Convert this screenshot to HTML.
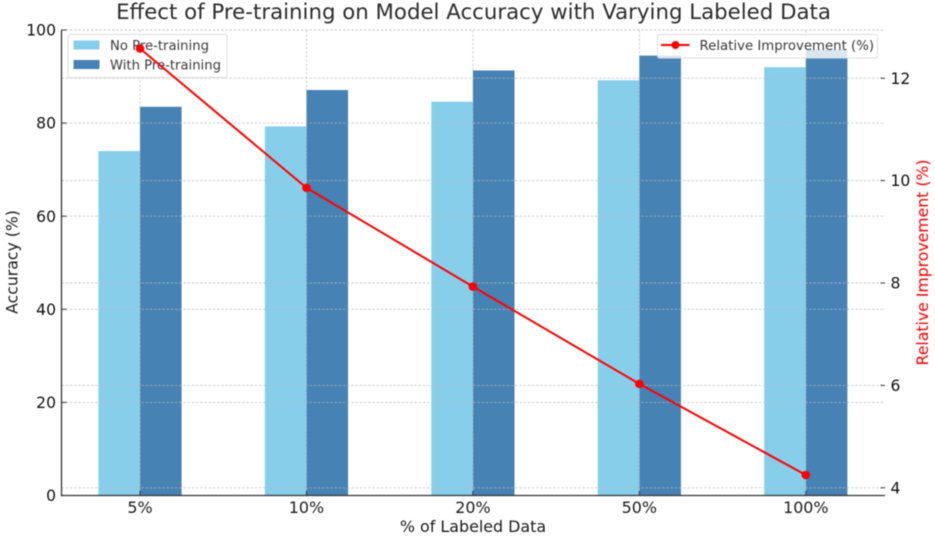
<!DOCTYPE html>
<html>
<head>
<meta charset="utf-8">
<title>Effect of Pre-training on Model Accuracy</title>
<style>
html,body{margin:0;padding:0;background:#fff;}
svg{display:block;filter:blur(0.4px);}
text{font-family:"DejaVu Sans","Liberation Sans",sans-serif;}
</style>
</head>
<body>
<svg id="chart" width="935" height="537" viewBox="0 0 935 537" xmlns="http://www.w3.org/2000/svg"></svg>
<script>
const categories = ['5%', '10%', '20%', '50%', '100%'];
const noPretraining = [74, 79.3, 84.6, 89.2, 92];
const withPretraining = [83.5, 87.1, 91.3, 94.5, 95.8];
const relativeImprovement = [12.58, 9.86, 7.93, 6.03, 4.25];
const leftTicks = [0, 20, 40, 60, 80, 100];
const rightTicks = [4, 6, 8, 10, 12];

const svg = document.getElementById('chart');
const NS = 'http://www.w3.org/2000/svg';
const plotLeft = 61.5, plotRight = 885, plotTop = 30, plotBottom = 495.5;

function xAxis(i) { return 140 + i * 166.45; }
function yLeft(v) { return plotBottom - v * (plotBottom - plotTop) / 100; }
function yRight(v) { return 487.8 - (v - 4) * 51.2; }

function make(tag, attrs, text) {
  const el = document.createElementNS(NS, tag);
  for (const k in attrs) el.setAttribute(k, attrs[k]);
  if (text !== undefined) el.textContent = text;
  svg.appendChild(el);
  return el;
}

/* title and axis titles */
let t = make('text', {x: 473.5, y: 19, 'text-anchor': 'middle', 'font-size': 21.3, fill: '#2c2c2c'}, 'Effect of Pre-training on Model Accuracy with Varying Labeled Data');


t = make('text', {x: 473, y: 532, 'text-anchor': 'middle', 'font-size': 15.9, fill: '#1c1c1c'}, '% of Labeled Data');


t = make('text', {x: 0, y: 0, transform: 'translate(17.5,262) rotate(-90)', 'text-anchor': 'middle', 'font-size': 15.7, fill: '#1c1c1c'}, 'Accuracy (%)');


t = make('text', {x: 0, y: 0, transform: 'translate(928,262.5) rotate(-90)', 'text-anchor': 'middle', 'font-size': 15.7, fill: '#ff0000'}, 'Relative Improvement (%)');



/* bars */
const barW = 41.6;
categories.forEach(function (c, i) {
  const x = xAxis(i);
  let r = make('rect', {x: x - barW, y: yLeft(noPretraining[i]), width: barW, height: plotBottom - yLeft(noPretraining[i]), fill: '#87ceeb'});
  
  
  r = make('rect', {x: x, y: yLeft(withPretraining[i]), width: barW, height: plotBottom - yLeft(withPretraining[i]), fill: '#4682b4'});
  
  
});

/* grid (drawn over the bars) */
const gridStyle = {stroke: '#b8b8b8', 'stroke-width': 0.9, 'stroke-dasharray': '2.6 1.6', 'stroke-opacity': 0.75, fill: 'none'};
function gridLine(x1, y1, x2, y2, name) {
  const l = make('line', Object.assign({x1: x1, y1: y1, x2: x2, y2: y2}, gridStyle));
  
  
}
leftTicks.forEach(function (v) { gridLine(plotLeft, yLeft(v), plotRight, yLeft(v), 'grid-line-left'); });
rightTicks.forEach(function (v) { gridLine(plotLeft, yRight(v), plotRight, yRight(v), 'grid-line-right'); });
categories.forEach(function (c, i) { gridLine(xAxis(i), plotTop, xAxis(i), plotBottom, 'grid-line-vertical'); });

/* left legend (sits beneath the line series) */
let b = make('rect', {x: 68, y: 34.5, width: 159, height: 43, rx: 2, fill: '#fff', 'fill-opacity': 0.8, stroke: '#ddd', 'stroke-width': 1});


b = make('rect', {x: 73.5, y: 40.5, width: 26, height: 9, fill: '#87ceeb'});


b = make('rect', {x: 73.5, y: 60, width: 26, height: 9, fill: '#4682b4'});


b = make('text', {x: 110, y: 49.8, 'font-size': 13.2, fill: '#3a3a3a'}, 'No Pre-training');


b = make('text', {x: 110, y: 69.3, 'font-size': 13.2, fill: '#3a3a3a'}, 'With Pre-training');



/* improvement line */
const pts = relativeImprovement.map(function (v, i) { return xAxis(i) + ',' + yRight(v); }).join(' ');
const poly = make('polyline', {points: pts, fill: 'none', stroke: '#ff0000', 'stroke-width': 2});


relativeImprovement.forEach(function (v, i) {
  const c = make('circle', {cx: xAxis(i), cy: yRight(v), r: 4.3, fill: '#ff0000'});
  
  
});

/* spines */
let s = make('line', {x1: plotLeft, y1: plotTop, x2: plotLeft, y2: plotBottom + 0.7, stroke: '#333', 'stroke-width': 1.3});


s = make('line', {x1: plotLeft, y1: plotBottom, x2: plotRight, y2: plotBottom, stroke: '#333', 'stroke-width': 1.3});



/* ticks and tick labels */
leftTicks.forEach(function (v) {
  const y = yLeft(v);
  const m = make('line', {x1: plotLeft, y1: y, x2: plotLeft + 5, y2: y, stroke: '#333', 'stroke-width': 1});
  
  
  const l = make('text', {x: 56, y: y + 5.6, 'text-anchor': 'end', 'font-size': 15.6, fill: '#111'}, String(v));
  
  
});
rightTicks.forEach(function (v) {
  const y = yRight(v);
  const m = make('line', {x1: 880.5, y1: y, x2: 885, y2: y, stroke: '#333', 'stroke-width': 1});
  
  
  const l = make('text', {x: 890.5, y: y + 5.6, 'text-anchor': 'start', 'font-size': 15.6, fill: '#111'}, String(v));
  
  
});
categories.forEach(function (c, i) {
  const x = xAxis(i);
  const m = make('line', {x1: x, y1: plotBottom, x2: x, y2: plotBottom - 4.5, stroke: '#333', 'stroke-width': 1});
  
  
  const l = make('text', {x: x, y: 513, 'text-anchor': 'middle', 'font-size': 15.9, fill: '#1c1c1c'}, c);
  
  
});

/* right legend */
b = make('rect', {x: 657.5, y: 34.5, width: 220, height: 23.5, rx: 2, fill: '#fff', 'fill-opacity': 0.8, stroke: '#ddd', 'stroke-width': 1});


b = make('line', {x1: 661, y1: 45, x2: 689.5, y2: 45, stroke: '#ff0000', 'stroke-width': 2});


b = make('circle', {cx: 675.5, cy: 45, r: 4, fill: '#ff0000'});


b = make('text', {x: 699.5, y: 49.8, 'font-size': 13.3, fill: '#3a3a3a'}, 'Relative Improvement (%)');


</script>
</body>
</html>
